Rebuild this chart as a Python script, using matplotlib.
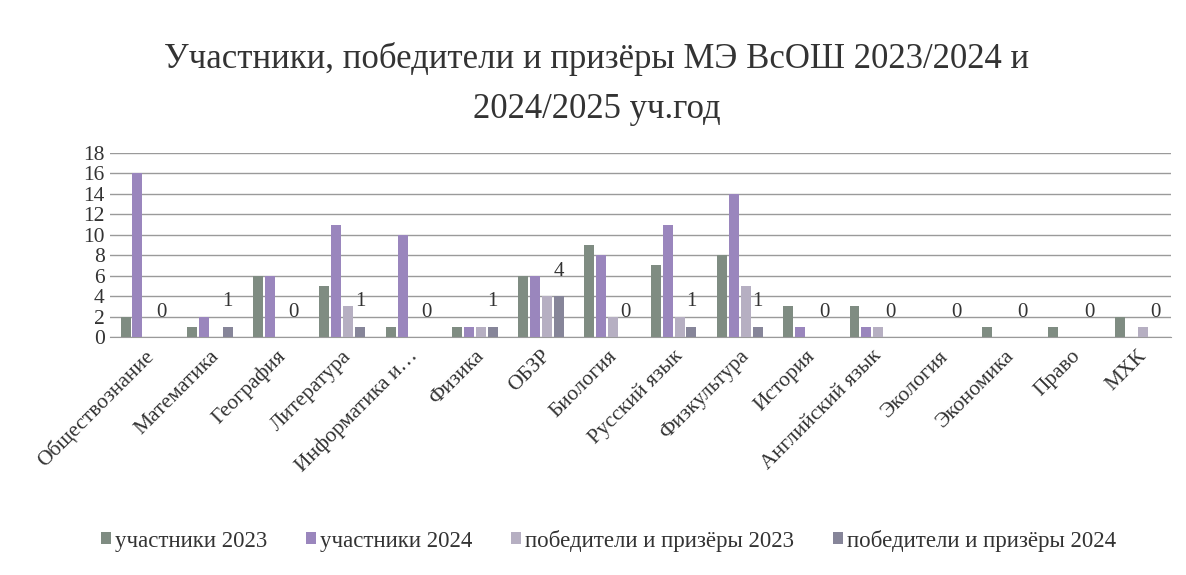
import numpy as np
import matplotlib
matplotlib.use('Agg')
import matplotlib.pyplot as plt

plt.rcParams['font.family'] = ['Liberation Serif', 'DejaVu Serif']

subjects = ['Обществознание', 'Математика', 'География', 'Литература', 'Информатика и…',
            'Физика', 'ОБЗР', 'Биология', 'Русский язык', 'Физкультура', 'История',
            'Английский язык', 'Экология', 'Экономика', 'Право', 'МХК']
uch_2023 = [2, 1, 6, 5, 1, 1, 6, 9, 7, 8, 3, 3, 0, 1, 1, 2]
uch_2024 = [16, 2, 6, 11, 10, 1, 6, 8, 11, 14, 1, 1, 0, 0, 0, 0]
pob_2023 = [0, 0, 0, 3, 0, 1, 4, 2, 2, 5, 0, 1, 0, 0, 0, 1]
pob_2024 = [0, 1, 0, 1, 0, 1, 4, 0, 1, 1, 0, 0, 0, 0, 0, 0]

series = [('участники 2023', uch_2023, '#7f8c82'),
          ('участники 2024', uch_2024, '#9a86bd'),
          ('победители и призёры 2023', pob_2023, '#b6afc2'),
          ('победители и призёры 2024', pob_2024, '#868599')]

fig = plt.figure(figsize=(11.86, 5.75), dpi=100)
ax = fig.add_axes([0.093, 0.414, 0.894, 0.32])

x = np.arange(len(subjects))
w = 0.15
offs = [-0.27, -0.09, 0.09, 0.27]
for (name, vals, col), o in zip(series, offs):
    bars = ax.bar(x + o, vals, width=w, color=col, label=name, zorder=3)
    # only the last series carries data labels
    if name == 'победители и призёры 2024':
        ax.bar_label(bars, padding=11, fontsize=15, color='#333333')

ax.set_xlim(-0.5, len(subjects) - 0.5)
ax.set_ylim(0, 18)
ax.set_yticks(range(0, 19, 2))
ax.yaxis.grid(True, color='#9a9a9a', linewidth=1.0, zorder=0)
for s in ['top', 'right', 'left']:
    ax.spines[s].set_visible(False)
ax.spines['bottom'].set_color('#9a9a9a')
ax.tick_params('y', length=0, labelsize=15.5, pad=4, labelcolor='#333333')
ax.tick_params('x', length=0, labelsize=15.5, pad=7, labelcolor='#333333')
ax.set_xticks(x)
ax.set_xticklabels(subjects, rotation=45, ha='right', rotation_mode='anchor')

fig.text(0.503, 0.898, 'Участники, победители и призёры МЭ ВсОШ 2023/2024 и',
         ha='center', va='center', fontsize=25, color='#333333')
fig.text(0.503, 0.810, '2024/2025 уч.год', ha='center', va='center', fontsize=25, color='#333333')

fig.legend(loc='center', bbox_to_anchor=(0.513, 0.06), ncol=4, frameon=False,
           fontsize=16.5, handlelength=0.45, handleheight=0.45, handletextpad=0.15,
           columnspacing=1.7, labelcolor='#333333')

fig.savefig('out.png', dpi=100)
